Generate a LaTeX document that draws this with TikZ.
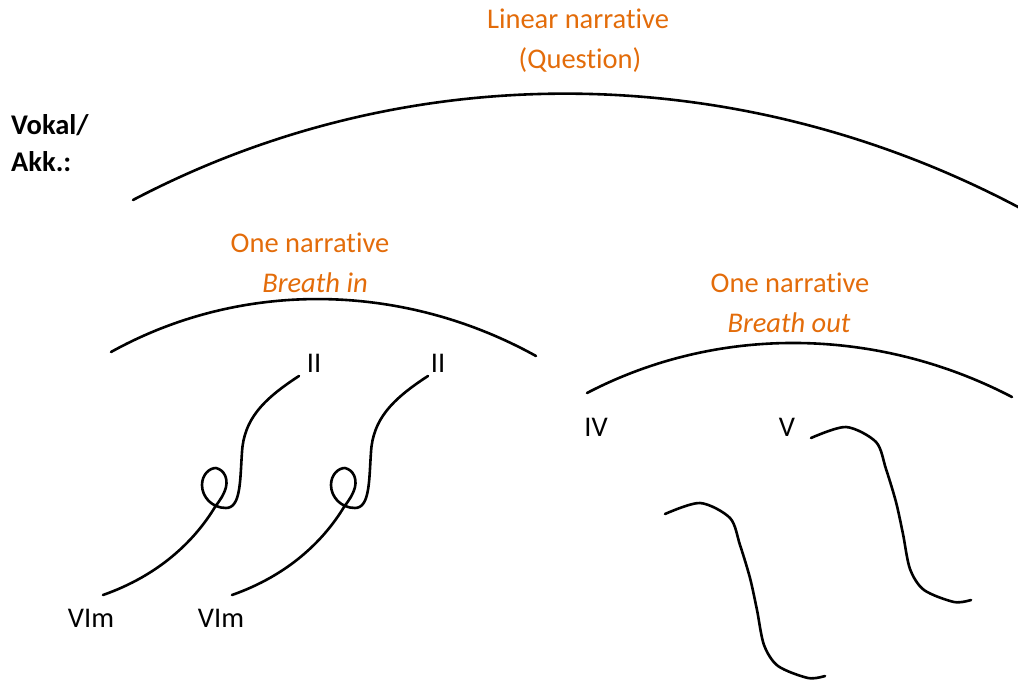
\documentclass[tikz,border=0pt]{standalone}
\usepackage{fontspec}
\setmainfont[RawFeature={-liga}]{Carlito}
\definecolor{narr}{HTML}{E36C0A}
\begin{document}
\begin{tikzpicture}[x=1pt,y=-1pt,
  curve/.style={line width=2.6pt,line cap=round,line join=round},
  otext/.style={text=narr,anchor=base,inner sep=0pt,font=\fontsize{28.5}{34}\selectfont},
  ltext/.style={anchor=base,inner sep=0pt,font=\fontsize{28.5}{34}\selectfont},
  btext/.style={anchor=base west,inner sep=0pt,font=\fontsize{28.5}{34}\selectfont\bfseries}]
\useasboundingbox (0,0) rectangle (1018,684);
% texts
\node[otext] (lin) at (578,29) {Linear narrative};
\node[otext] (que) at (580,69) {(Question)};
\node[btext] (vok) at (11,135) {Vokal/};
\node[btext] (akk) at (11,172) {Akk.:};
\node[otext] (on1) at (310,253) {One narrative};
\node[otext] (bin) at (315,293) {\itshape Breath in};
\node[otext] (on2) at (790,293) {One narrative};
\node[otext] (bout) at (789,333) {\itshape Breath out};
\node[ltext] (ii1) at (314,373) {II};
\node[ltext] (ii2) at (438,373) {II};
\node[ltext] (iv) at (596,437) {IV};
\node[ltext] (v) at (787,437) {V};
\node[ltext] (vim1) at (91,627) {VIm};
\node[ltext] (vim2) at (221,627) {VIm};
% arcs
\draw[curve] (133,200) .. controls (415,52) and (745,62) .. (1020,208);
\draw[curve] (111,352) .. controls (243,278.8) and (404,282.8) .. (536,356);
\draw[curve] (587,393) .. controls (720,323.7) and (879,327.7) .. (1012,397);
% loops
\foreach \dx in {0,129}{
\begin{scope}[xshift=\dx pt]
\draw[curve] (299,376) .. controls (262,400) and (244,420) .. (242,452)
  .. controls (240,480) and (241,508) .. (226,508)
  .. controls (212,508) and (202,497) .. (202,485)
  .. controls (202,475) and (209,468) .. (216,468)
  .. controls (224,470) and (228,478) .. (226,487)
  .. controls (224,495) and (220,500) .. (215,507)
  .. controls (195,540) and (160,575) .. (103,595);
\end{scope}}
% waves
\foreach \dx/\dy in {0/0,146/-76}{
\begin{scope}[xshift=\dx pt,yshift=-\dy pt]
\draw[curve] plot[smooth,tension=0.5] coordinates {(665,514) (700,503) (730,518) (740,545) (750,578) (757,610) (764,645) (778,666) (808,678) (825,676)};
\end{scope}}
\end{tikzpicture}
\end{document}
